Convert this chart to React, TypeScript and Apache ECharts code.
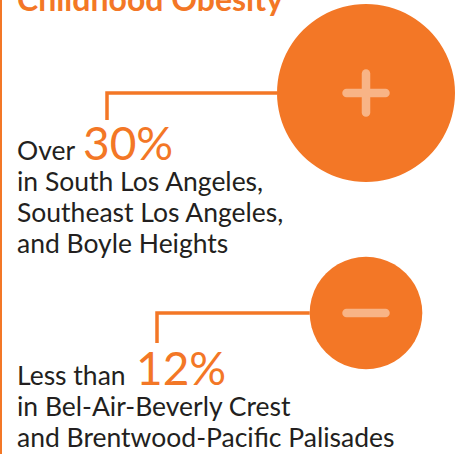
import React, { useEffect, useRef } from "react";
import * as echarts from "echarts";

// ---- data ----
const title = "Childhood Obesity";
const categories = ["Highest", "Lowest"];
const prefixes = ["Over", "Less than"];
const values = [30, 12];
const places = [
  ["in South Los Angeles,", "Southeast Los Angeles,", "and Boyle Heights"],
  ["in Bel-Air-Beverly Crest", "and Brentwood-Pacific Palisades"],
];
const signs = ["plus", "minus"];

// ---- style / layout ----
const ORANGE = "#F37726";
const LIGHT = "#F8B486";
const DARK = "#231F20";
const FONT = "Lato, 'Noto Sans', sans-serif";
const R_MAX = 89;
const BODY = 26.5;
const PCT = 46;
const LINE_H = 31;
const TEXT_X = 17;
// per-item callout layout, relative to circle centre
const LAYOUT = [
  { legX: 107, legLen: 27, baseline: 67, pctX: 83 },
  { legX: 157, legLen: 30, baseline: 72, pctX: 136 },
];
const CENTRAL = 0.387; // central-baseline offset of Lato (em)

export default function App() {
  const ref = useRef<HTMLDivElement>(null);
  useEffect(() => {
    if (!ref.current) return;
    const chart = echarts.init(ref.current, undefined, { renderer: "svg" });
    const maxV = Math.max(...values);
    chart.setOption({
      animation: false,
      backgroundColor: "#ffffff",
      title: {
        text: title,
        left: 17,
        top: -17.5,
        padding: 0,
        textStyle: { fontFamily: FONT, fontSize: 32, fontWeight: "bold", color: ORANGE },
      },
      grid: { left: 268, right: 0, top: 93, bottom: 141 },
      xAxis: { type: "category", data: ["x"], show: false },
      yAxis: { type: "category", data: categories, inverse: true, boundaryGap: false, show: false },
      graphic: [
        { type: "rect", shape: { x: 0, y: 0, width: 2, height: 454 }, style: { fill: ORANGE }, z: 10 },
      ],
      series: [
        {
          type: "custom",
          data: values.map((v, i) => [0, i, v]),
          encode: { x: 0, y: 1 },
          renderItem: (params: any, api: any) => {
            const i = params.dataIndex;
            const [cx, cy] = api.coord([api.value(0), api.value(1)]);
            const v = api.value(2);
            const r = R_MAX * Math.sqrt(v / maxV);
            const L = LAYOUT[i];
            const base = cy + L.baseline;
            const children: any[] = [
              {
                type: "polyline",
                shape: { points: [[cx - r, cy], [L.legX, cy], [L.legX, cy + L.legLen]] },
                style: { stroke: ORANGE, lineWidth: 3.5, fill: null },
              },
              { type: "circle", shape: { cx, cy, r }, style: { fill: ORANGE } },
              {
                type: "line",
                shape: { x1: cx - 19.5, y1: cy, x2: cx + 19.5, y2: cy },
                style: { stroke: LIGHT, lineWidth: 8.5, lineCap: "round" },
              },
            ];
            if (signs[i] === "plus") {
              children.push({
                type: "line",
                shape: { x1: cx, y1: cy - 19.5, x2: cx, y2: cy + 19.5 },
                style: { stroke: LIGHT, lineWidth: 8.5, lineCap: "round" },
              });
            }
            children.push(
              {
                type: "text",
                x: TEXT_X,
                y: base - CENTRAL * BODY,
                style: {
                  text: prefixes[i],
                  fontFamily: FONT,
                  fontSize: BODY,
                  lineHeight: BODY,
                  fill: DARK,
                  align: "left",
                  verticalAlign: "middle",
                },
              },
              {
                type: "text",
                x: L.pctX,
                y: base - CENTRAL * PCT,
                style: {
                  text: values[i] + "%",
                  fontFamily: FONT,
                  fontSize: PCT,
                  lineHeight: 34,
                  fontWeight: 400,
                  fill: ORANGE,
                  align: "left",
                  verticalAlign: "middle",
                },
              },
              {
                type: "text",
                x: TEXT_X,
                y: base + LINE_H - LINE_H / 2 - CENTRAL * BODY,
                style: {
                  text: places[i].join("\n"),
                  fontFamily: FONT,
                  fontSize: BODY,
                  lineHeight: LINE_H,
                  fill: DARK,
                  align: "left",
                  verticalAlign: "top",
                },
              }
            );
            return { type: "group", children };
          },
        },
      ],
    });
    return () => chart.dispose();
  }, []);
  return (
    <div
      ref={ref}
      style={{ position: "fixed", left: 0, top: 0, width: 464, height: 454 }}
    />
  );
}
